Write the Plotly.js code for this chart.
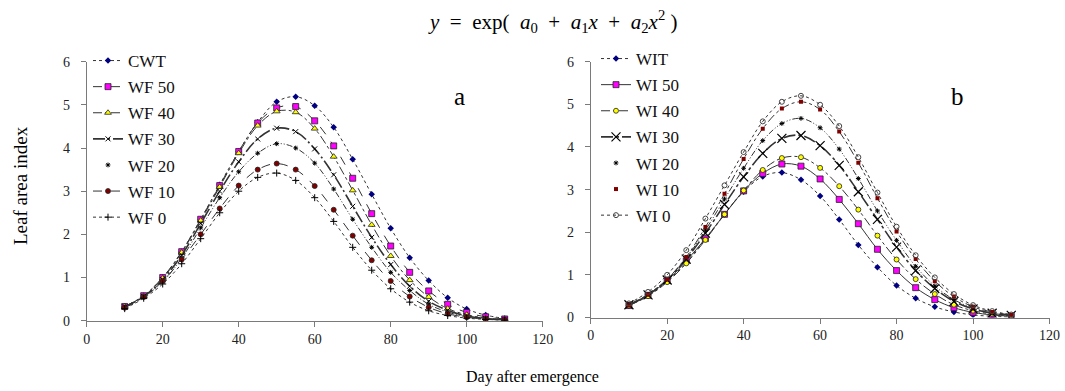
<!DOCTYPE html>
<html><head><meta charset="utf-8">
<script src="https://cdn.plot.ly/plotly-3.0.1.min.js"></script>
<style>html,body{margin:0;padding:0;background:#fff}</style>
</head><body><div id="chart" style="width:1065px;height:391px"></div>
<script>
const days = [10,15,20,25,30,35,40,45,50,55,60,65,70,75,80,85,90,95,100,105,110];

// Panel a
const CWT  = [0.33,0.58,1.00,1.60,2.35,3.15,3.92,4.60,5.07,5.19,4.98,4.48,3.74,2.93,2.14,1.46,0.93,0.53,0.27,0.13,0.05];
const WF50 = [0.33,0.58,1.00,1.60,2.35,3.13,3.92,4.58,4.93,4.96,4.63,4.05,3.30,2.48,1.73,1.12,0.69,0.38,0.19,0.09,0.04];
const WF40 = [0.33,0.57,0.98,1.58,2.32,3.10,3.88,4.52,4.85,4.83,4.45,3.80,3.02,2.22,1.50,0.94,0.55,0.28,0.14,0.06,0.03];
const WF30 = [0.32,0.56,0.95,1.52,2.25,3.00,3.68,4.21,4.46,4.38,3.98,3.38,2.65,1.93,1.30,0.80,0.45,0.24,0.11,0.05,0.02];
const WF20 = [0.31,0.55,0.90,1.45,2.15,2.85,3.45,3.88,4.10,4.00,3.65,3.05,2.35,1.70,1.12,0.70,0.38,0.20,0.09,0.04,0.02];
const WF10 = [0.30,0.55,0.92,1.42,2.00,2.60,3.13,3.50,3.64,3.50,3.12,2.57,1.97,1.40,0.92,0.56,0.31,0.16,0.08,0.04,0.02];
const WF0  = [0.28,0.52,0.85,1.32,1.90,2.50,3.00,3.32,3.42,3.25,2.85,2.30,1.70,1.17,0.74,0.43,0.23,0.12,0.06,0.03,0.01];

// Panel b
const WIT  = [0.28,0.52,0.85,1.30,1.85,2.42,2.95,3.31,3.40,3.23,2.85,2.30,1.70,1.18,0.75,0.45,0.25,0.13,0.06,0.03,0.01];
const WI50 = [0.28,0.52,0.87,1.33,1.85,2.42,2.97,3.38,3.60,3.55,3.25,2.77,2.20,1.60,1.10,0.70,0.42,0.23,0.12,0.06,0.03];
const WI40 = [0.28,0.50,0.83,1.27,1.82,2.42,2.98,3.46,3.74,3.76,3.51,3.08,2.53,1.92,1.36,0.90,0.55,0.30,0.16,0.08,0.04];
const WI30 = [0.30,0.53,0.88,1.37,1.98,2.65,3.30,3.85,4.20,4.27,4.03,3.57,2.95,2.30,1.65,1.10,0.68,0.38,0.20,0.10,0.05];
const WI20 = [0.30,0.54,0.90,1.40,2.05,2.78,3.50,4.15,4.55,4.67,4.45,3.95,3.26,2.50,1.81,1.20,0.74,0.42,0.22,0.10,0.05];
const WI10 = [0.29,0.54,0.90,1.42,2.12,2.90,3.72,4.43,4.90,5.06,4.88,4.36,3.63,2.80,2.02,1.37,0.85,0.49,0.25,0.13,0.06];
const WI0  = [0.33,0.60,1.00,1.58,2.32,3.10,3.88,4.60,5.06,5.20,4.99,4.49,3.76,2.93,2.13,1.46,0.94,0.55,0.29,0.15,0.07];

const xTicks = [0,20,40,60,80,100,120];
const yTicks = [0,1,2,3,4,5,6];

const serif = 'Liberation Serif';
const lineCol = '#333333';

function series(name, y, xa, ya, leg, group, opt) {
  const out = [];
  const lineOnLegend = opt.legendLine !== false;
  if (!lineOnLegend) {
    out.push({x: days, y: y, xaxis: xa, yaxis: ya, mode: 'lines', showlegend: false,
      line: {color: lineCol, width: opt.width || 1, dash: opt.dash, shape: 'spline'}, hoverinfo: 'skip'});
  }
  out.push({
    x: days, y: y, name: name, xaxis: xa, yaxis: ya, legend: leg, legendgroup: group,
    mode: lineOnLegend ? 'lines+markers' : 'markers',
    line: {color: lineCol, width: opt.width || 1, dash: opt.dash, shape: 'spline'},
    marker: {symbol: opt.symbol, size: opt.size, color: opt.color,
      line: {color: opt.mline || '#222', width: opt.mlw === undefined ? 0.8 : opt.mlw}}
  });
  return out;
}

let data = [];
data = data.concat(series('CWT', CWT, 'x', 'y', 'legend', 'a1', {dash: 'dot', symbol: 'diamond', size: 5, color: '#000080', mlw: 0}));
data = data.concat(series('WF 50', WF50, 'x', 'y', 'legend', 'a2', {dash: 'dash', symbol: 'square', size: 6, color: '#ff00ff'}));
data = data.concat(series('WF 40', WF40, 'x', 'y', 'legend', 'a3', {dash: 'dashdot', symbol: 'triangle-up', size: 6, color: '#ffff00'}));
data = data.concat(series('WF 30', WF30, 'x', 'y', 'legend', 'a4', {dash: '12px,3px,2px,3px', width: 1.6, symbol: 'x-thin-open', size: 5, color: '#000', mline: '#000', mlw: 1}));
data = data.concat(series('WF 20', WF20, 'x', 'y', 'legend', 'a5', {dash: '6px,2px,1px,2px,1px,2px', legendLine: false, symbol: 'asterisk-open', size: 4, color: '#000', mline: '#000', mlw: 1}));
data = data.concat(series('WF 10', WF10, 'x', 'y', 'legend', 'a6', {dash: 'dash', symbol: 'circle', size: 5, color: '#800000'}));
data = data.concat(series('WF 0', WF0, 'x', 'y', 'legend', 'a7', {dash: 'dot', symbol: 'cross-thin-open', size: 5, color: '#000', mline: '#000', mlw: 1}));

data = data.concat(series('WIT', WIT, 'x2', 'y2', 'legend2', 'b1', {dash: 'dot', symbol: 'diamond', size: 5, color: '#000080', mlw: 0}));
data = data.concat(series('WI 50', WI50, 'x2', 'y2', 'legend2', 'b2', {dash: 'solid', symbol: 'square', size: 6, color: '#ff00ff'}));
data = data.concat(series('WI 40', WI40, 'x2', 'y2', 'legend2', 'b3', {dash: 'dashdot', symbol: 'circle', size: 5, color: '#ffff00'}));
data = data.concat(series('WI 30', WI30, 'x2', 'y2', 'legend2', 'b4', {dash: '12px,3px,3px,3px', width: 1.6, symbol: 'x-thin-open', size: 9, color: '#000', mline: '#000', mlw: 1.2}));
data = data.concat(series('WI 20', WI20, 'x2', 'y2', 'legend2', 'b5', {dash: '6px,2px,1px,2px,1px,2px', legendLine: false, symbol: 'asterisk-open', size: 4, color: '#000', mline: '#000', mlw: 1}));
data = data.concat(series('WI 10', WI10, 'x2', 'y2', 'legend2', 'b6', {dash: 'dashdot', legendLine: false, symbol: 'square', size: 4, color: '#800000', mlw: 0}));
data = data.concat(series('WI 0', WI0, 'x2', 'y2', 'legend2', 'b7', {dash: 'dot', symbol: 'circle-open', size: 5, color: '#444', mline: '#444', mlw: 1}));

const H = 391, W = 1065;
const axisCommon = {
  showgrid: false, zeroline: false, showline: true, linecolor: '#7a7a7a', linewidth: 1,
  ticks: 'outside', ticklen: 5, tickcolor: '#7a7a7a', tickwidth: 1,
  tickfont: {family: serif, size: 14, color: '#222'}, fixedrange: true
};
const legendCommon = {
  font: {family: serif, size: 17, color: '#111'}, bgcolor: 'rgba(0,0,0,0)',
  traceorder: 'grouped', tracegroupgap: 1, itemwidth: 30, yanchor: 'top', xanchor: 'left'
};
const sp = '&nbsp;&nbsp;';

const layout = {
  width: W, height: H, margin: {l: 0, r: 0, t: 0, b: 0},
  font: {family: serif, color: '#111'},
  paper_bgcolor: '#fff', plot_bgcolor: '#fff', showlegend: true,
  xaxis: Object.assign({}, axisCommon, {domain: [86.7/W, 542.7/W], range: [0,120], tickvals: xTicks, anchor: 'y'}),
  yaxis: Object.assign({}, axisCommon, {domain: [1-320.7/H, 1-61.7/H], range: [0,6], tickvals: yTicks, anchor: 'x', ticklabelstandoff: 8}),
  xaxis2: Object.assign({}, axisCommon, {domain: [590.7/W, 1049.5/W], range: [0,120], tickvals: xTicks, anchor: 'y2'}),
  yaxis2: Object.assign({}, axisCommon, {domain: [1-317.5/H, 1-61.7/H], range: [0,6], tickvals: yTicks, anchor: 'x2', ticklabelstandoff: 8}),
  legend: Object.assign({}, legendCommon, {x: 88/W, y: 1-43/H}),
  legend2: Object.assign({}, legendCommon, {x: 596/W, y: 1-41/H}),
  annotations: [
    {text: '<i>y</i>' + sp + '=' + sp + 'exp(' + sp + '<i>a</i><sub>0</sub>' + sp + '+' + sp + '<i>a</i><sub>1</sub><i>x</i>' + sp + '+' + sp + '<i>a</i><sub>2</sub><i>x</i><sup>2</sup>&nbsp;)',
     xref: 'paper', yref: 'paper', x: 552/W, y: 1-22/H, xanchor: 'center', yanchor: 'middle', showarrow: false, font: {family: serif, size: 21, color: '#000'}},
    {text: 'a', xref: 'paper', yref: 'paper', x: 459/W, y: 1-97/H, xanchor: 'center', yanchor: 'middle', showarrow: false, font: {family: serif, size: 25, color: '#000'}},
    {text: 'b', xref: 'paper', yref: 'paper', x: 957/W, y: 1-97/H, xanchor: 'center', yanchor: 'middle', showarrow: false, font: {family: serif, size: 25, color: '#000'}},
    {text: 'Leaf area index', xref: 'paper', yref: 'paper', x: 20/W, y: 1-186/H, xanchor: 'center', yanchor: 'middle', textangle: -90, showarrow: false, font: {family: serif, size: 19, color: '#000'}},
    {text: 'Day after emergence', xref: 'paper', yref: 'paper', x: 532/W, y: 1-377/H, xanchor: 'center', yanchor: 'middle', showarrow: false, font: {family: serif, size: 16, color: '#000'}}
  ]
};

Plotly.newPlot('chart', data, layout, {displayModeBar: false, staticPlot: true});
</script>
</body></html>
